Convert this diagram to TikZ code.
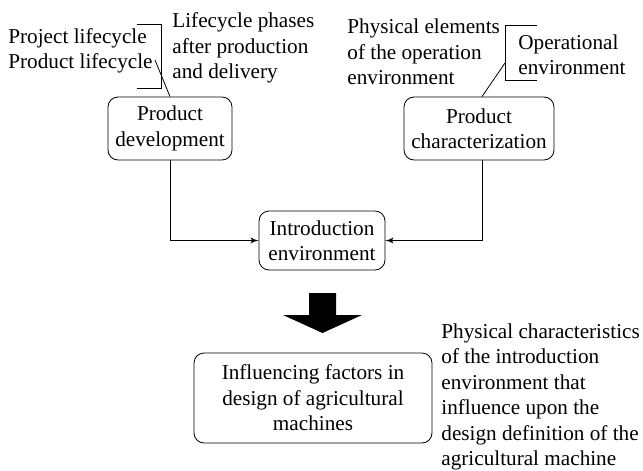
\documentclass[tikz,border=0pt]{standalone}
\usepackage{fontspec}
\setmainfont{Liberation Serif}
\usepackage{tikz}
\usetikzlibrary{positioning, shapes, arrows}

\tikzset{
  phase/.style={draw, rounded corners=5pt, align=center, inner sep=1pt},
  note/.style={anchor=west, align=left, inner sep=0pt},
}

\begin{document}
\begin{tikzpicture}[x=0.5pt, y=-0.5pt, >=latex',
                    font=\fontsize{10.6}{12.7}\selectfont]
\useasboundingbox (0,0) rectangle (643,471);
\node[phase, minimum width=62pt, minimum height=31.5pt] at (170,128.5) (dev){Product\\development};
\node[phase, right of = dev, minimum width=75pt, minimum height=31.5pt, node distance=154.5pt](char){Product\\characterization};
\node[phase, minimum width=63pt, minimum height=29.5pt] at (322,240.5) (intro){Introduction\\environment};
\node[phase, below of = intro, minimum width=119pt, minimum height=45pt, node distance=78.75pt, xshift=-4.5pt](infl){Influencing factors in\\design of agricultural\\machines};
% side notes
\node[note] at (8,51)    (proj){Project lifecycle\\Product lifecycle};
\node[note] at (172,48)  (after){Lifecycle phases\\after production\\and delivery};
\node[note] at (347,52)  (phys){Physical elements\\of the operation\\environment};
\node[note] at (518,55)  (oper){Operational\\environment};
\node[note] at (441,397) (charac){Physical characteristics\\of the introduction\\environment that\\influence upon the\\design definition of the\\agricultural machine};
% brackets
\draw (137,24) -- (161,24) -- (161,88) -- (137,88);
\draw (537,25) -- (505,25) -- (505,80) -- (537,80);
\coordinate (lb) at (155,60);
\coordinate (rb) at (505,63);
\draw (lb) -- (dev.north);
\draw (rb) -- ([xshift=1.5pt]char.north);
% flows
\draw[->] (dev.south) |- (intro.west);
\draw[->] ([xshift=1.5pt]char.south) |- (intro.east);
\fill (309,293) -- (336,293) -- (336,315) -- (362,315) -- (322.5,333) -- (283,315) -- (309,315) -- cycle;
\end{tikzpicture}
\end{document}
